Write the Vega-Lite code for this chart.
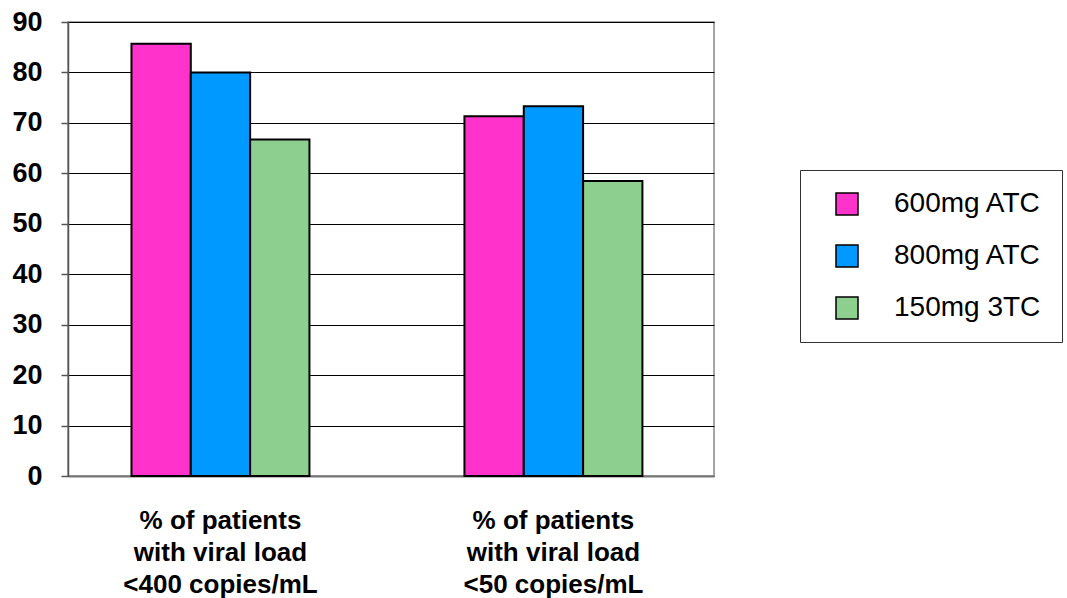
{
  "$schema": "https://vega.github.io/schema/vega-lite/v6.json",
  "width": 646,
  "height": 454,
  "autosize": {"type": "none"},
  "padding": {"left": 68, "top": 22, "right": 353, "bottom": 122},
  "background": "white",
  "config": {
    "font": "Liberation Sans",
    "view": {"stroke": "#888888", "strokeWidth": 1.5}
  },
  "data": {
    "values": [
      {"measure": "% of patients|with viral load|<400 copies/mL", "regimen": "600mg ATC", "value": 85.7},
      {"measure": "% of patients|with viral load|<400 copies/mL", "regimen": "800mg ATC", "value": 80.0},
      {"measure": "% of patients|with viral load|<400 copies/mL", "regimen": "150mg 3TC", "value": 66.7},
      {"measure": "% of patients|with viral load|<50 copies/mL", "regimen": "600mg ATC", "value": 71.3},
      {"measure": "% of patients|with viral load|<50 copies/mL", "regimen": "800mg ATC", "value": 73.3},
      {"measure": "% of patients|with viral load|<50 copies/mL", "regimen": "150mg 3TC", "value": 58.5}
    ]
  },
  "mark": {"type": "bar", "stroke": "black", "strokeWidth": 2},
  "encoding": {
    "x": {
      "field": "measure",
      "type": "nominal",
      "sort": null,
      "scale": {"paddingInner": 0.4655, "paddingOuter": 0.2028, "align": 0.47},
      "axis": {
        "title": null,
        "labelAngle": 0,
        "labelExpr": "split(datum.label, '|')",
        "labelFontSize": 26,
        "labelFontWeight": "bold",
        "labelColor": "black",
        "labelLineHeight": 32,
        "labelPadding": 31,
        "labelBaseline": "top",
        "ticks": false,
        "domainColor": "#777777",
        "domainWidth": 2,
        "labelLimit": 400
      }
    },
    "xOffset": {
      "field": "regimen",
      "type": "nominal",
      "sort": ["600mg ATC", "800mg ATC", "150mg 3TC"],
      "scale": {"paddingInner": 0, "paddingOuter": 0}
    },
    "y": {
      "field": "value",
      "type": "quantitative",
      "scale": {"domain": [0, 90], "nice": false},
      "axis": {
        "title": null,
        "values": [0, 10, 20, 30, 40, 50, 60, 70, 80, 90],
        "labelFontSize": 27,
        "labelFontWeight": "bold",
        "labelColor": "black",
        "labelPadding": 19,
        "tickSize": 7,
        "tickColor": "#555555",
        "tickWidth": 1.5,
        "domainColor": "#555555",
        "domainWidth": 1.5,
        "gridColor": "black",
        "gridWidth": 1
      }
    },
    "color": {
      "field": "regimen",
      "type": "nominal",
      "sort": ["600mg ATC", "800mg ATC", "150mg 3TC"],
      "scale": {
        "domain": ["600mg ATC", "800mg ATC", "150mg 3TC"],
        "range": ["#FF33CC", "#0099FF", "#8CCF8E"]
      },
      "legend": {
        "title": null,
        "orient": "none",
        "legendX": 732,
        "legendY": 148,
        "padding": 20,
        "strokeColor": "#333333",
        "fillColor": "white",
        "symbolType": "square",
        "symbolSize": 484,
        "symbolStrokeColor": "black",
        "symbolStrokeWidth": 1.5,
        "symbolOffset": 13,
        "labelFontSize": 28,
        "labelColor": "black",
        "labelOffset": 33,
        "rowPadding": 24,
        "labelLimit": 400
      }
    }
  }
}
